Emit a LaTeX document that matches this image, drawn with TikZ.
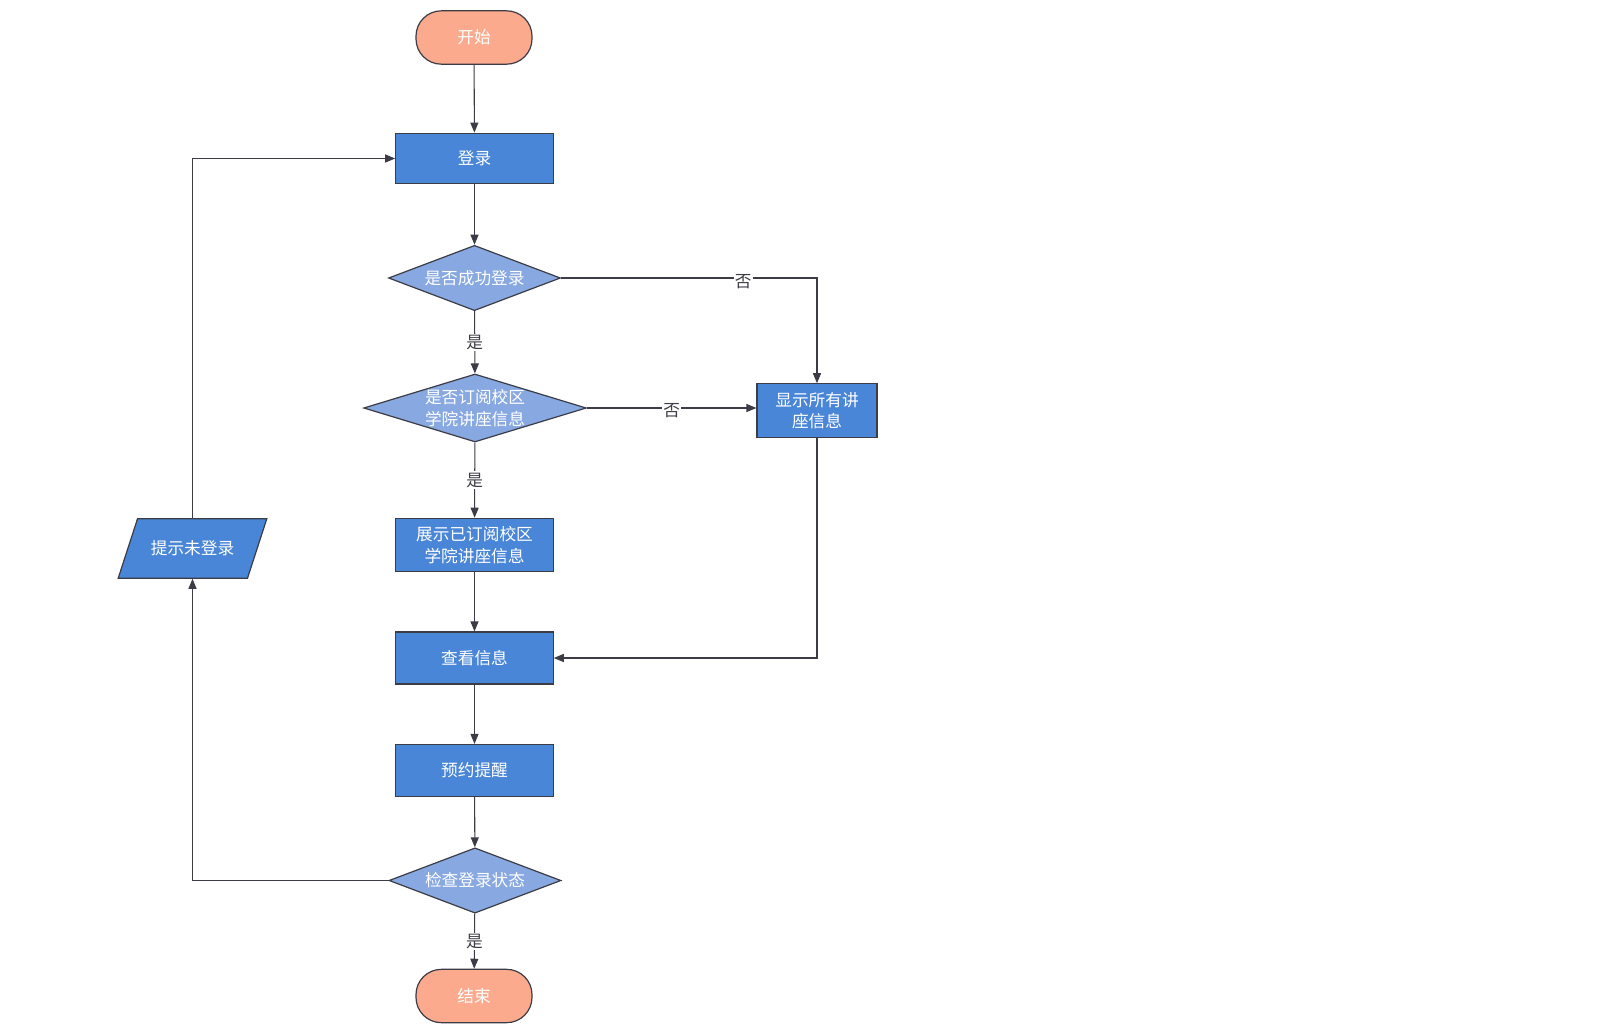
\documentclass[tikz,border=0pt]{standalone}
\usepackage{fontspec}
\setmainfont{Noto Sans CJK SC}
\usetikzlibrary{shapes.geometric,arrows.meta}
\definecolor{endcol}{RGB}{252,170,142}
\definecolor{boxcol}{RGB}{74,134,216}
\definecolor{askcol}{RGB}{135,168,224}
\definecolor{linecol}{RGB}{60,60,70}

\begin{document}
\begin{tikzpicture}[x=0.75pt,y=-0.75pt,
  every node/.style={font=\fontsize{12.5}{16}\selectfont},
  base/.style={draw=linecol,line width=0.9pt,text=white,align=center,inner sep=0pt},
  term/.style={base,fill=endcol,rounded corners=19pt,minimum width=87pt,minimum height=40pt},
  proc/.style={base,fill=boxcol,minimum width=118pt,minimum height=38pt},
  ask/.style={base,fill=askcol,diamond,shape aspect=2.6,minimum width=129pt,minimum height=49pt},
  io/.style={base,fill=boxcol,trapezium,trapezium left angle=72,trapezium right angle=108,
    inner xsep=10pt,inner ysep=16.5pt},
  lbl/.style={fill=white,text=linecol,inner sep=1pt},
  link/.style={draw=linecol,line width=0.8pt,-{Stealth[inset=0pt,length=7.5pt,width=6pt]}}]
  \useasboundingbox (0,0) rectangle (1597,1031);
  % main column
  \node[term] (start) at (474,37.5) {开始};
  \node[proc] (login) at (474.5,158.5) {登录};
  \node[ask] (okq) at (474.5,278) {是否成功登录};
  \node[ask,shape aspect=3.28,minimum width=167pt,minimum height=51pt] (subq) at (475,408)
    {是否订阅校区\\学院讲座信息};
  \node[proc,minimum height=40pt] (show) at (474.5,545) {展示已订阅校区\\学院讲座信息};
  \node[proc,minimum height=39pt] (view) at (474.5,658) {查看信息};
  \node[proc,minimum height=39pt] (remind) at (474.5,770.5) {预约提醒};
  \node[ask] (checkq) at (475,880.5) {检查登录状态};
  \node[term] (stop) at (474,996) {结束};
  % side nodes
  \node[proc,minimum width=90pt,minimum height=40pt] (all) at (817,410.5) {显示所有讲\\座信息};
  \node[io] (hint) at (192.5,548.5) {提示未登录};
  % connectors
  \draw[link] (start) -- (login);
  \draw[link] (login) -- (okq);
  \draw[link] (okq) -- node[lbl] {是} (subq);
  \draw[link] (okq) -| node[lbl,pos=0.356,yshift=-3pt] {否} (all);
  \draw[link] (subq.east) -- node[lbl,yshift=-2pt] {否} (subq.east -| all.west);
  \draw[link] (subq) -- node[lbl] {是} (show);
  \draw[link] (show) -- (view);
  \draw[link] (all) |- (view);
  \draw[link] (view) -- (remind);
  \draw[link] (remind) -- (checkq);
  \draw[link] (checkq) -- node[lbl] {是} (stop);
  \draw[link] (checkq) -| (hint);
  \draw[link] (hint) |- (login);
\end{tikzpicture}
\end{document}
